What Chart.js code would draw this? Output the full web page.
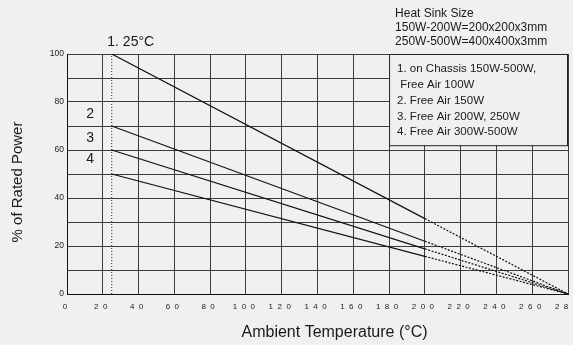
<!DOCTYPE html>
<html>
<head>
<meta charset="utf-8">
<title>Power derating curve</title>
<script src="https://cdn.jsdelivr.net/npm/chart.js@4/dist/chart.umd.min.js"></script>
<style>
  html, body { margin: 0; padding: 0; background: #f0f0f0; }
  #wrap { width: 573px; height: 345px; }
</style>
</head>
<body>
<div id="wrap"><canvas id="chart" width="573" height="345"></canvas></div>
<script>
// Derating curves: full power up to 25°C, solid to 200°C, dotted to 280°C
const curveNames = ['1', '2', '3', '4'];
const startTemp = 25;
const kneeTemp = 200;
const endTemp = 280;
const startPower = [100, 70, 60, 50];
const kneePower = [31.4, 22, 18.8, 15.7];
const endPower = [0, 0, 0, 0];

const xTickValues = [0, 20, 40, 60, 80, 100, 120, 140, 160, 180, 200, 220, 240, 260, 280];
const yTickLabels = [0, 20, 40, 60, 80, 100];

const heatSinkText = ['Heat Sink Size', '150W-200W=200x200x3mm', '250W-500W=400x400x3mm'];
const legendText = ['1. on Chassis 150W-500W,', ' Free Air 100W', '2. Free Air 150W', '3. Free Air 200W, 250W', '4. Free Air 300W-500W'];

const FONT = '"Liberation Sans", Arial, sans-serif';
const INK = '#1a1a1a';
const GRID = '#3c3c3c';

const datasets = curveNames.map((name, i) => ({
  label: name,
  data: [
    { x: startTemp, y: startPower[i] },
    { x: kneeTemp, y: kneePower[i] },
    { x: endTemp, y: endPower[i] }
  ],
  borderColor: '#111',
  borderWidth: 1.2,
  pointRadius: 0,
  tension: 0,
  segment: {
    borderDash: ctx => ctx.p0DataIndex === 1 ? [2, 1.5] : undefined
  }
}));

// vertical dotted marker at 25°C
datasets.push({
  label: '25°C',
  data: [{ x: startTemp, y: 0 }, { x: startTemp, y: 100 }],
  borderColor: '#222',
  borderWidth: 1,
  borderDash: [1, 2],
  pointRadius: 0
});

const notes = {
  id: 'notes',
  beforeDatasetsDraw(chart) {
    const { ctx, chartArea, scales: { x, y } } = chart;
    // legend box covering the top right of the grid
    const left = x.getPixelForValue(180);
    const bottom = y.getPixelForValue(62);
    ctx.save();
    ctx.fillStyle = '#f0f0f0';
    ctx.fillRect(left, chartArea.top, chartArea.right - left, bottom - chartArea.top);
    ctx.strokeStyle = '#222';
    ctx.lineWidth = 1;
    ctx.strokeRect(left + 0.5, chartArea.top + 0.5, chartArea.right - left - 1, bottom - chartArea.top);
    ctx.restore();
  },
  afterDraw(chart) {
    const { ctx, chartArea, scales: { x, y } } = chart;
    ctx.save();
    ctx.fillStyle = INK;
    ctx.textBaseline = 'middle';

    // legend text
    ctx.font = '11.5px ' + FONT;
    const lx = x.getPixelForValue(180) + 8;
    legendText.forEach((t, i) => ctx.fillText(t, lx, chartArea.top + 15 + i * 15.8));

    // heat sink note above the plot
    ctx.font = '12px ' + FONT;
    heatSinkText.forEach((t, i) => ctx.fillText(t, lx - 2, 14 + i * 14));

    // curve numbers
    ctx.font = '14px ' + FONT;
    ctx.textAlign = 'center';
    ctx.fillText('1. 25°C', x.getPixelForValue(startTemp) + 19, chartArea.top - 12);
    const numberY = [75, 65, 56];
    curveNames.slice(1).forEach((n, i) => ctx.fillText(n, x.getPixelForValue(13), y.getPixelForValue(numberY[i])));

    // axis titles
    ctx.font = '16px ' + FONT;
    ctx.fillText('Ambient Temperature (°C)', (chartArea.left + chartArea.right) / 2 + 17, 333);
    ctx.translate(18, (chartArea.top + chartArea.bottom) / 2 + 8);
    ctx.rotate(-Math.PI / 2);
    ctx.font = '15px ' + FONT;
    ctx.fillText('% of Rated Power', 0, 0);
    ctx.restore();
  }
};

new Chart(document.getElementById('chart'), {
  type: 'line',
  data: { datasets },
  plugins: [notes],
  options: {
    responsive: false,
    animation: false,
    layout: { padding: { left: 0, top: 54, right: 5, bottom: 0 } },
    plugins: {
      legend: { display: false },
      tooltip: { enabled: false }
    },
    scales: {
      x: {
        type: 'linear',
        min: 0,
        max: 280,
        afterBuildTicks: scale => { scale.ticks = xTickValues.map(v => ({ value: v })); },
        afterFit: scale => {
          scale.height = 51;
          scale.paddingLeft = 0;
          scale.paddingRight = 0;
        },
        grid: { color: GRID, lineWidth: 1, drawTicks: false },
        border: { color: '#111', width: 1 },
        ticks: {
          autoSkip: false,
          maxRotation: 0,
          padding: 8,
          labelOffset: -2,
          color: '#222',
          font: { family: FONT, size: 8 },
          callback: v => String(v).split('').join('  ')
        }
      },
      y: {
        min: 0,
        max: 100,
        afterBuildTicks: scale => {
          scale.ticks = [];
          for (let v = 0; v <= 100; v += 10) scale.ticks.push({ value: v });
        },
        afterFit: scale => {
          scale.width = 67;
          scale.paddingTop = 0;
          scale.paddingBottom = 0;
        },
        grid: { color: GRID, lineWidth: 1, drawTicks: false },
        border: { color: '#111', width: 1 },
        ticks: {
          padding: 3,
          color: '#222',
          font: { family: FONT, size: 8.5 },
          callback: v => yTickLabels.includes(v) ? String(v) : ''
        }
      }
    }
  }
});
</script>
</body>
</html>
